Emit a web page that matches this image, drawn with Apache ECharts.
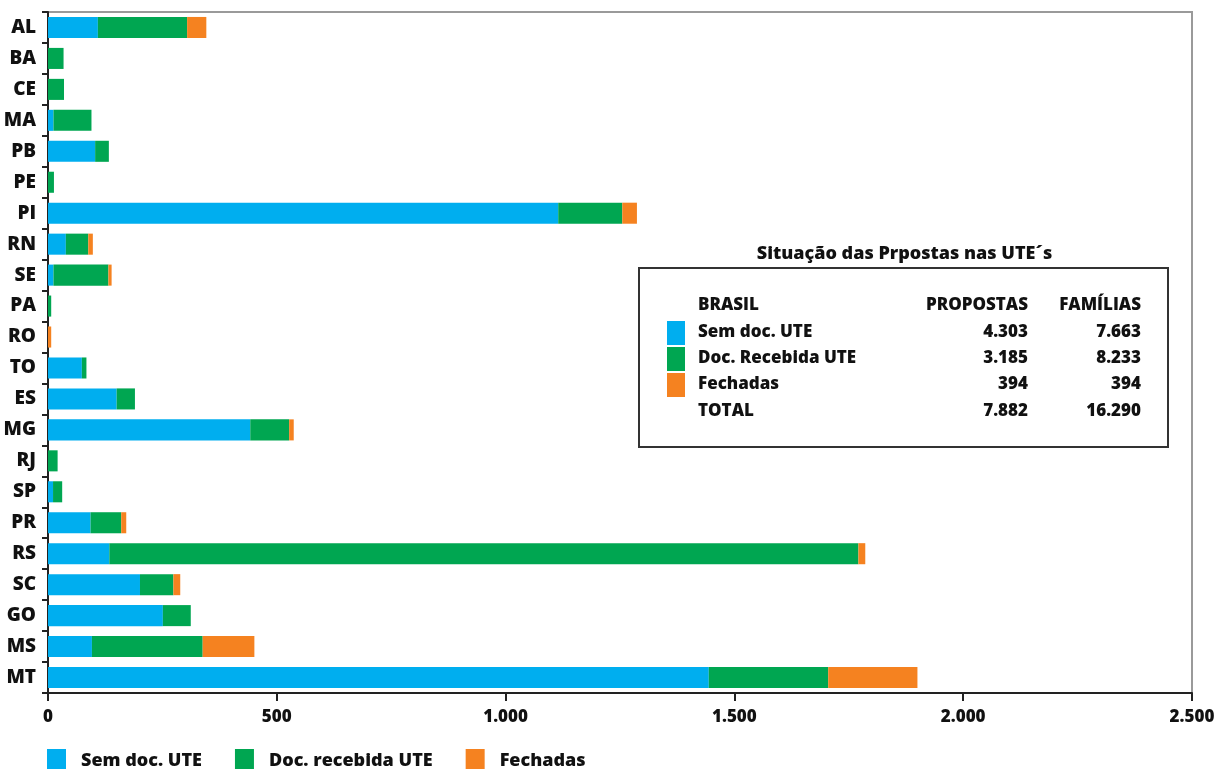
<!DOCTYPE html>
<html>
<head>
<meta charset="utf-8">
<script src="https://cdn.jsdelivr.net/npm/echarts@6/dist/echarts.min.js"></script>
<style>
  html, body { margin: 0; padding: 0; background: #fff; }
  #chart { width: 1221px; height: 769px; }
</style>
</head>
<body>
<div id="chart"></div>
<script>
// States, top to bottom
const estados = ['AL','BA','CE','MA','PB','PE','PI','RN','SE','PA','RO','TO','ES','MG','RJ','SP','PR','RS','SC','GO','MS','MT'];

// Proposals per state, by situation
const semDoc   = [109, 0, 0, 12, 103, 0, 1115, 39, 12, 0, 0, 74, 150, 442, 0, 11, 93, 134, 201, 251, 96, 1444];
const docRec   = [195, 34, 35, 83, 30, 13, 140, 49, 120, 7, 0, 10, 40, 85, 21, 20, 67, 1637, 73, 61, 242, 261];
const fechadas = [42, 0, 0, 0, 0, 0, 32, 10, 7, 0, 7, 0, 0, 10, 0, 0, 11, 15, 15, 0, 113, 195];

const seriesNames = ['Sem doc. UTE', 'Doc. recebida UTE', 'Fechadas'];
const colors = ['#00AEEF', '#00A651', '#F58220'];

// Summary table (Brasil)
const tabelaTitulo = 'Situação das Prpostas nas UTE´s';
const tabelaCabecalho = ['BRASIL', 'PROPOSTAS', 'FAMÍLIAS'];
const tabelaLinhas = ['Sem doc. UTE', 'Doc. Recebida UTE', 'Fechadas', 'TOTAL'];
const tabelaPropostas = ['4.303', '3.185', '394', '7.882'];
const tabelaFamilias = ['7.663', '8.233', '394', '16.290'];

const FONT = '"Open Sans", "Noto Sans", sans-serif';
const TXT = '#111';
const W = 800;

function fmt(v) {
  return String(v).replace(/\B(?=(\d{3})+(?!\d))/g, '.');
}

// Summary table drawn as graphic elements
const boxX = 639, boxY = 268, boxW = 529, boxH = 179;
const colLabel = 698, colProp = 1028, colFam = 1141;
const rowY = [305, 332, 358, 384, 411];

function txt(text, x, y, align, size) {
  return {
    type: 'text',
    style: {
      text: text, x: x, y: y, align: align, verticalAlign: 'middle',
      fontFamily: FONT, fontWeight: W, fontSize: size || 17, fill: TXT
    }
  };
}

const tableGraphics = [
  txt(tabelaTitulo, boxX + boxW / 2 + 1, 254, 'center', 18),
  {
    type: 'rect', shape: { x: boxX, y: boxY, width: boxW, height: boxH },
    style: { fill: '#fff', stroke: '#333', lineWidth: 2 }
  },
  txt(tabelaCabecalho[0], colLabel, rowY[0], 'left'),
  txt(tabelaCabecalho[1], colProp, rowY[0], 'right'),
  txt(tabelaCabecalho[2], colFam, rowY[0], 'right')
];
const swatchY = [321, 347, 373];
tabelaLinhas.forEach((lbl, i) => {
  const y = rowY[i + 1];
  tableGraphics.push(txt(lbl, colLabel, y, 'left'));
  tableGraphics.push(txt(tabelaPropostas[i], colProp, y, 'right'));
  tableGraphics.push(txt(tabelaFamilias[i], colFam, y, 'right'));
  if (i < 3) {
    tableGraphics.push({
      type: 'rect', shape: { x: 667, y: swatchY[i], width: 18, height: 24 },
      style: { fill: colors[i] }
    });
  }
});

const chart = echarts.init(document.getElementById('chart'), null, { renderer: 'canvas' });

chart.setOption({
  animation: false,
  backgroundColor: '#fff',
  textStyle: { fontFamily: FONT },
  grid: {
    left: 48, right: 29, top: 12, bottom: 76,
    show: true, borderColor: '#9a9a9a', borderWidth: 2, backgroundColor: 'transparent'
  },
  legend: {
    data: seriesNames,
    left: 42, top: 744,
    icon: 'rect',
    itemWidth: 19, itemHeight: 24, itemGap: 33,
    textStyle: { fontFamily: FONT, fontWeight: W, fontSize: 18, color: TXT, padding: [0, 0, 0, 10] }
  },
  xAxis: {
    type: 'value', min: 0, max: 2500, interval: 500,
    axisLine: { show: true, lineStyle: { color: '#222', width: 2 } },
    axisTick: { show: true, length: 8, lineStyle: { color: '#222', width: 2 } },
    splitLine: { show: false },
    axisLabel: {
      margin: 16, fontFamily: FONT, fontWeight: W, fontSize: 17, color: TXT,
      formatter: v => fmt(v)
    }
  },
  yAxis: {
    type: 'category', data: estados, inverse: true,
    axisLine: { show: true, lineStyle: { color: '#222', width: 2 } },
    axisTick: { show: true, length: 6, lineStyle: { color: '#222', width: 2 } },
    axisLabel: { margin: 12, fontFamily: FONT, fontWeight: W, fontSize: 19, color: TXT }
  },
  series: [semDoc, docRec, fechadas].map((d, i) => ({
    name: seriesNames[i],
    type: 'bar',
    stack: 'total',
    data: d,
    barCategoryGap: '32%',
    itemStyle: { color: colors[i] }
  })),
  graphic: tableGraphics
});
</script>
</body>
</html>
